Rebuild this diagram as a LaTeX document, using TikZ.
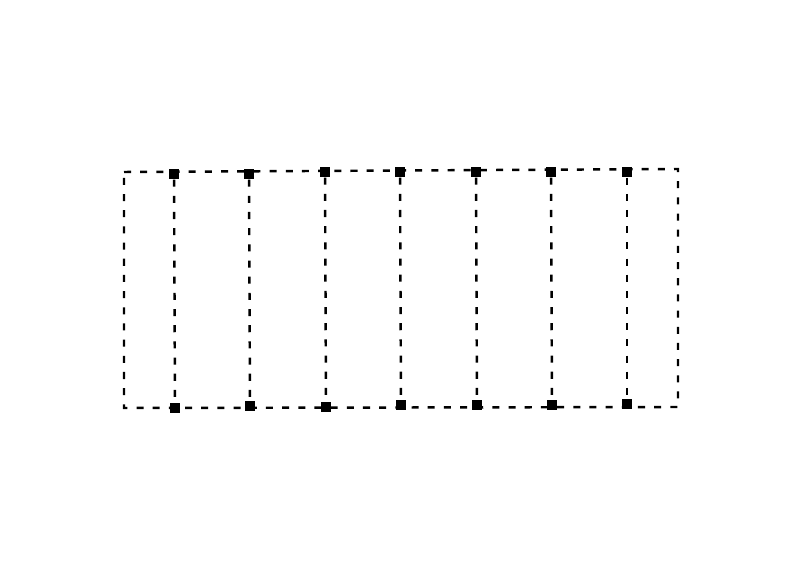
\documentclass[tikz,border=0pt]{standalone}
\usetikzlibrary{math}

\begin{document}
\begin{tikzpicture}[x=0.01cm,y=-0.01cm,
                        edge/.style={black,line width=0.7pt,dash pattern=on 2pt off 2.6pt},
                        post/.style={fill=black,minimum size=2.8pt,inner sep=0pt}]
      \useasboundingbox (0,0) rectangle (800,582);
      % outer frame
      \coordinate (tl) at (124,172);
      \coordinate (tr) at (678,169);
      \coordinate (br) at (678,407);
      \coordinate (bl) at (124,408);
      \draw[edge] (tl) -- (tr) -- (br) -- (bl) -- cycle;

      \foreach[count=\i] \xt/\yt/\xb/\yb in {174/174/175/408,249/174/250/406,325/172/326/407,
                                           400/172/401/405,476/172/477/405,551/172/552/405,627/172/627/404} {
        \node[post] (top\i) at (\xt,\yt) {};
        \node[post] (bot\i) at (\xb,\yb) {};
        \draw[edge] (top\i) -- (bot\i);
      }
    \end{tikzpicture}
\end{document}
